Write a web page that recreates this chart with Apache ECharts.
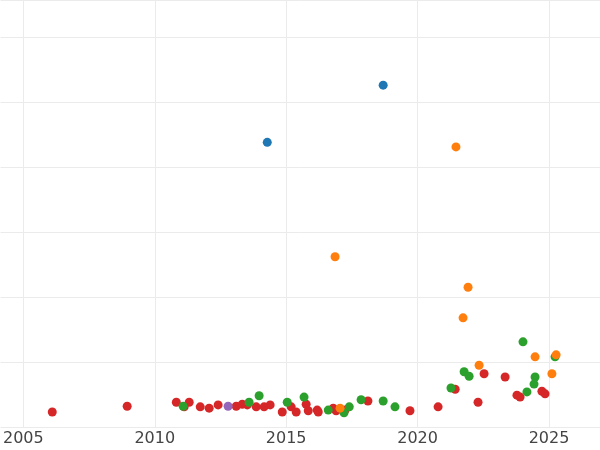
<!DOCTYPE html>
<html>
<head>
<meta charset="utf-8">
<script src="https://cdn.jsdelivr.net/npm/echarts@6/dist/echarts.min.js"></script>
<style>html,body{margin:0;padding:0;background:#fff}#chart{width:600px;height:450px}</style>
</head>
<body>
<div id="chart"></div>
<script>
var yearTicks = [2005, 2010, 2015, 2020, 2025];
var blueData = [[2018.69,5.26],[2014.28,4.38]];
var orangeData = [[2021.46,4.31],[2016.86,2.62],[2021.92,2.15],[2021.73,1.68],[2022.34,0.95],[2024.47,1.08],[2025.27,1.11],[2025.11,0.82],[2017.05,0.29]];
var greenData = [[2024.01,1.31],[2021.77,0.85],[2021.96,0.78],[2021.27,0.6],[2024.47,0.77],[2024.43,0.66],[2024.16,0.54],[2025.23,1.08],[2013.97,0.48],[2013.59,0.38],[2015.68,0.46],[2015.04,0.38],[2017.85,0.42],[2018.69,0.4],[2019.14,0.31],[2017.4,0.31],[2016.6,0.26],[2017.2,0.22],[2011.08,0.32]];
var redData = [[2006.1,0.23],[2008.95,0.32],[2010.82,0.38],[2011.31,0.38],[2011.12,0.31],[2011.73,0.31],[2012.07,0.29],[2012.41,0.34],[2013.1,0.32],[2013.33,0.35],[2013.52,0.34],[2013.86,0.31],[2014.16,0.31],[2014.39,0.34],[2014.85,0.23],[2015.19,0.31],[2015.38,0.23],[2015.76,0.35],[2015.84,0.25],[2016.18,0.26],[2016.22,0.23],[2016.79,0.29],[2016.9,0.25],[2017.24,0.26],[2018.11,0.4],[2019.71,0.25],[2020.78,0.31],[2021.43,0.58],[2022.53,0.82],[2022.3,0.38],[2023.33,0.77],[2023.78,0.49],[2023.9,0.46],[2024.73,0.55],[2024.85,0.51]];
var purpleData = [[2012.79,0.32]];

var myChart = echarts.init(document.getElementById('chart'));
function s(data, color){
    return {type: 'scatter', data: data, symbolSize: 9, itemStyle: {color: color, opacity: 1}};
}
var option = {
    animation: false,
    grid: {left: 0, right: 0, top: 0, bottom: 23},
    xAxis: {
        type: 'value', min: 2004.13, max: 2026.94,
        axisLine: {show: false},
        axisTick: {show: false, customValues: yearTicks},
        axisLabel: {color: '#444', fontSize: 16, margin: 4, fontFamily: 'DejaVu Sans',
            customValues: yearTicks, formatter: function (v) { return String(v); }},
        splitLine: {show: true, lineStyle: {color: '#ebebeb', width: 1}}
    },
    yAxis: {
        type: 'value', min: 0, max: 6.57, interval: 1,
        axisLine: {show: false}, axisTick: {show: false}, axisLabel: {show: false},
        splitLine: {lineStyle: {color: '#ebebeb', width: 1}}
    },
    series: [
        s(redData, '#d62728'),
        s(greenData, '#2ca02c'),
        s(orangeData, '#ff7f0e'),
        s(purpleData, '#9467bd'),
        s(blueData, '#1f77b4')
    ]
};
myChart.setOption(option);
</script>
</body>
</html>
